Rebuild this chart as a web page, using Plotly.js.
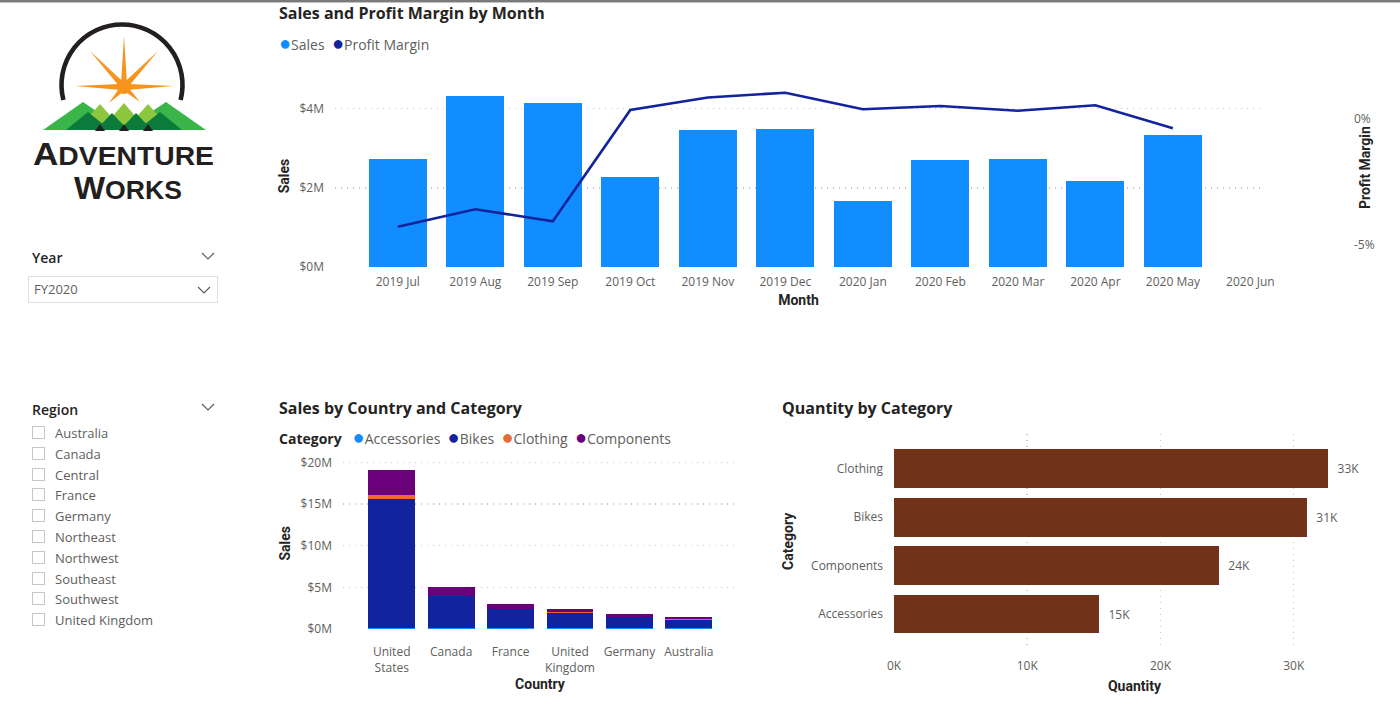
<!DOCTYPE html>
<html>
<head>
<meta charset="utf-8">
<script src="https://cdn.plot.ly/plotly-3.0.1.min.js"></script>
<style>
html,body{margin:0;padding:0;background:#fff;}
#wrap{position:relative;width:1400px;height:715px;overflow:hidden;font-family:'Open Sans',sans-serif;}
#chart{position:absolute;left:0;top:0;width:1400px;height:715px;}
#topline{position:absolute;left:0;top:0;width:1400px;height:2px;background:#7a7a7a;border-bottom:1px solid #c4c4c4;z-index:5;}
#logo{position:absolute;left:0;top:0;z-index:4;}
.stitle{position:absolute;font-family:'Open Sans',sans-serif;font-weight:600;font-size:14px;color:#252423;z-index:4;line-height:18px;}
.chev{position:absolute;z-index:4;}
.dropdown{position:absolute;border:1px solid #e1dfdd;box-sizing:border-box;z-index:4;font-size:13px;color:#605E5C;line-height:24px;padding-left:5px;}
.item{position:absolute;left:32px;z-index:4;height:20px;}
.item .box{position:absolute;left:0;top:3px;width:13px;height:13px;border:1px solid #c8c6c4;box-sizing:border-box;background:#fff;}
.item .lbl{position:absolute;left:23px;top:0;font-size:13px;color:#605E5C;line-height:20px;white-space:nowrap;}
</style>
</head>
<body>
<div id="wrap">
  <div id="chart"></div>
  <div id="topline"></div>
  <svg id="logo" width="240" height="210" viewBox="0 0 240 210"></svg>
  <div class="stitle" style="left:32px;top:249px;">Year</div>
  <svg class="chev" style="left:201px;top:252px;" width="14" height="8"><polyline points="1,1 7,7 13,1" fill="none" stroke="#605E5C" stroke-width="1.2"/></svg>
  <div class="dropdown" style="left:28px;top:276px;width:190px;height:27px;">FY2020</div>
  <svg class="chev" style="left:197px;top:286px;" width="14" height="8"><polyline points="1,1 7,7 13,1" fill="none" stroke="#605E5C" stroke-width="1.2"/></svg>
  <div class="stitle" style="left:32px;top:401px;">Region</div>
  <svg class="chev" style="left:201px;top:403px;" width="14" height="8"><polyline points="1,1 7,7 13,1" fill="none" stroke="#605E5C" stroke-width="1.2"/></svg>
  <div id="regions"></div>
</div>
<script>
// ---------------- Data ----------------
const months = ['2019 Jul','2019 Aug','2019 Sep','2019 Oct','2019 Nov','2019 Dec','2020 Jan','2020 Feb','2020 Mar','2020 Apr','2020 May','2020 Jun'];
const monthSales = [2730000, 4310000, 4140000, 2270000, 3460000, 3500000, 1670000, 2700000, 2740000, 2180000, 3330000, null];
const profitMargin = [-0.0430, -0.0360, -0.0408, 0.0036, 0.0086, 0.0105, 0.0039, 0.0052, 0.0033, 0.0055, -0.0037, null];

const countries = ['United<br>States','Canada','France','United<br>Kingdom','Germany','Australia'];
const salesCategories = ['Accessories','Bikes','Clothing','Components'];
const accessoriesSales = [80000, 120000, 100000, 100000, 100000, 80000];
const bikesSales = [15550000, 3840000, 2250000, 1780000, 1300000, 980000];
const clothingSales = [400000, 50000, 30000, 220000, 60000, 150000];
const componentsSales = [3000000, 1050000, 620000, 320000, 350000, 200000];

const qtyCategories = ['Accessories','Components','Bikes','Clothing'];
const quantity = [15400, 24400, 31000, 32600];

const regions = ['Australia','Canada','Central','France','Germany','Northeast','Northwest','Southeast','Southwest','United Kingdom'];

// ---------------- Slicer list ----------------
const regDiv = document.getElementById('regions');
regions.forEach((r,i)=>{
  const d = document.createElement('div');
  d.className='item';
  d.style.top = (423 + i*20.8) + 'px';
  d.innerHTML = '<div class="box"></div><div class="lbl">'+r+'</div>';
  regDiv.appendChild(d);
});

// ---------------- Logo ----------------
(function(){
  const NS='http://www.w3.org/2000/svg';
  const svg=document.getElementById('logo');
  function el(tag,attrs,parent){const e=document.createElementNS(NS,tag);for(const k in attrs)e.setAttribute(k,attrs[k]);(parent||svg).appendChild(e);return e;}
  el('path',{d:'M 63.4 100 A 60.5 60.5 0 1 1 180.6 100',fill:'none',stroke:'#231F20','stroke-width':4.6});
  const cx=124, cy=87;
  const tips=[[124,36],[75,86],[173,86],[90,51],[158,51],[109,103],[140,102]];
  tips.forEach(t=>{
    const dx=t[0]-cx, dy=t[1]-cy, L=Math.hypot(dx,dy), nx=-dy/L, ny=dx/L, w=3.2;
    el('polygon',{points:`${t[0]},${t[1]} ${cx+nx*w},${cy+ny*w} ${cx-dx*0.08},${cy-dy*0.08} ${cx-nx*w},${cy-ny*w}`,fill:'#F7941D'});
  });
  el('circle',{cx:cx,cy:cy,r:7,fill:'#F7941D'});
  el('polygon',{points:'43,130 83,102 124,130',fill:'#39B54A'});
  el('polygon',{points:'124,130 166,102 206,130',fill:'#39B54A'});
  el('polygon',{points:'77,130 100,104 123,130',fill:'#8DC63F'});
  el('polygon',{points:'101,130 124,103 147,130',fill:'#8DC63F'});
  el('polygon',{points:'125,130 148,104 171,130',fill:'#8DC63F'});
  el('polygon',{points:'66,130 88,112 110,130',fill:'#0B7A3B'});
  el('polygon',{points:'96,130 112,113 128,130',fill:'#0B7A3B'});
  el('polygon',{points:'120,130 136,113 152,130',fill:'#0B7A3B'});
  el('polygon',{points:'138,130 160,112 182,130',fill:'#0B7A3B'});
  el('polygon',{points:'95,131 100,124 105,131',fill:'#231F20'});
  el('polygon',{points:'119,131 124,124 129,131',fill:'#231F20'});
  el('polygon',{points:'143,131 148,124 153,131',fill:'#231F20'});
  const fam='Liberation Sans, Arial, sans-serif';
  const t1=el('text',{x:33,y:165,'font-family':fam,'font-weight':'bold',fill:'#231F20',textLength:181,lengthAdjust:'spacingAndGlyphs'});
  el('tspan',{'font-size':31},t1).textContent='A';
  el('tspan',{'font-size':25},t1).textContent='DVENTURE';
  const t2=el('text',{x:74,y:199,'font-family':fam,'font-weight':'bold',fill:'#231F20',textLength:108,lengthAdjust:'spacingAndGlyphs'});
  el('tspan',{'font-size':31},t2).textContent='W';
  el('tspan',{'font-size':25},t2).textContent='ORKS';
})();

// ---------------- Charts ----------------
const W=1400, H=715;
const px=v=>v/W, py=v=>(H-v)/H;
const tickGray='#605E5C', dark='#252423';
const gridDash='1px,5px', gridCol='#c8c6c4';
const axTitleFont={family:'Roboto, sans-serif', size:14, color:dark, weight:'bold'};
const chartTitleFont={family:'Open Sans, sans-serif', size:16, color:dark, weight:'bold'};
const sp='\u00a0';
const dot=c=>`<span style='color:${c};font-size:20px'>●</span>`;

const traces=[
  {type:'bar', x:months, y:monthSales, name:'Sales', marker:{color:'#118DFF'}, width:0.75, xaxis:'x', yaxis:'y'},
  {type:'scatter', mode:'lines', x:months, y:profitMargin, name:'Profit Margin', line:{color:'#12239E', width:2.6}, xaxis:'x', yaxis:'y2', connectgaps:false},
  {type:'bar', x:countries, y:accessoriesSales, name:'Accessories', marker:{color:'#118DFF'}, width:0.79, xaxis:'x2', yaxis:'y3'},
  {type:'bar', x:countries, y:bikesSales, name:'Bikes', marker:{color:'#12239E'}, width:0.79, xaxis:'x2', yaxis:'y3'},
  {type:'bar', x:countries, y:clothingSales, name:'Clothing', marker:{color:'#E66C37'}, width:0.79, xaxis:'x2', yaxis:'y3'},
  {type:'bar', x:countries, y:componentsSales, name:'Components', marker:{color:'#6B007B'}, width:0.79, xaxis:'x2', yaxis:'y3'},
  {type:'bar', orientation:'h', x:quantity, y:qtyCategories, name:'Quantity', marker:{color:'#72321A'}, width:0.8, xaxis:'x3', yaxis:'y4',
   text:quantity.map(v=>sp+sp+Math.round(v/1000)+'K'), textposition:'outside', textfont:{family:'Open Sans', size:12, color:tickGray}, cliponaxis:false}
];

const layout={
  width:W, height:H, margin:{l:0,r:0,t:0,b:0}, showlegend:false, barmode:'stack',
  paper_bgcolor:'#ffffff', plot_bgcolor:'rgba(0,0,0,0)',
  font:{family:'Open Sans, sans-serif', size:12, color:tickGray},
  xaxis:{domain:[px(335),px(1262)], anchor:'y', type:'category', range:[-0.81,11.15], showgrid:false, zeroline:false, showline:false, ticks:'',
         ticklabelstandoff:6, tickfont:{size:12,color:tickGray}, title:{text:'Month', font:axTitleFont, standoff:6}},
  yaxis:{domain:[py(267),py(85)], anchor:'x', range:[0,4600000], tickvals:[0,2000000,4000000], ticktext:['$0M','$2M','$4M'],
         showgrid:true, gridcolor:gridCol, griddash:gridDash, gridwidth:1.5, zeroline:false, showline:false, ticks:'', ticklabelstandoff:10,
         title:{text:'Sales', font:axTitleFont, standoff:6}},
  yaxis2:{overlaying:'y', side:'right', anchor:'free', position:px(1353), range:[-0.05906,0.01357], tickvals:[-0.05,0], ticktext:['-5%','0%'],
         showgrid:false, zeroline:false, showline:false, ticks:''},
  xaxis2:{domain:[px(343),px(737)], anchor:'y3', type:'category', range:[-0.82,5.81], showgrid:false, zeroline:false, showline:false, ticks:'',
         ticklabelstandoff:14, tickfont:{size:12,color:tickGray}, title:{text:'Country', font:axTitleFont, standoff:4}},
  yaxis3:{domain:[py(629),py(457.4)], anchor:'x2', range:[0,20600000], tickvals:[0,5000000,10000000,15000000,20000000],
         ticktext:['$0M','$5M','$10M','$15M','$20M'], showgrid:true, gridcolor:gridCol, griddash:gridDash, gridwidth:1.5, zeroline:false,
         showline:false, ticks:'', ticklabelstandoff:10, title:{text:'Sales', font:axTitleFont, standoff:6}},
  xaxis3:{domain:[px(894),px(1375)], anchor:'y4', range:[0,36100], tickvals:[0,10000,20000,30000], ticktext:['0K','10K','20K','30K'],
         showgrid:true, gridcolor:gridCol, griddash:gridDash, gridwidth:1.5, zeroline:false, showline:false, ticks:'',
         ticklabelstandoff:8, tickfont:{size:12,color:tickGray}, title:{text:'Quantity', font:axTitleFont, standoff:8}},
  yaxis4:{domain:[py(649),py(433.7)], anchor:'x3', type:'category', categoryorder:'array', categoryarray:qtyCategories, range:[-0.72,3.72],
         showgrid:false, zeroline:false, showline:false, ticks:'', ticklabelstandoff:10, tickfont:{size:12,color:tickGray},
         title:{text:'Category', font:axTitleFont, standoff:14}},
  annotations:[
    {xref:'paper', yref:'paper', x:px(277), y:py(13), xanchor:'left', yanchor:'middle', showarrow:false, text:'Sales and Profit Margin by Month', font:chartTitleFont},
    {xref:'paper', yref:'paper', x:px(277), y:py(42), xanchor:'left', yanchor:'middle', showarrow:false, font:{size:14,color:tickGray},
     text:dot('#118DFF')+'Sales'+sp+sp+dot('#12239E')+'Profit Margin'},
    {xref:'paper', yref:'paper', x:px(1365), y:py(168), xanchor:'center', yanchor:'middle', textangle:-90, showarrow:false, text:'Profit Margin', font:axTitleFont},
    {xref:'paper', yref:'paper', x:px(277), y:py(408), xanchor:'left', yanchor:'middle', showarrow:false, text:'Sales by Country and Category', font:chartTitleFont},
    {xref:'paper', yref:'paper', x:px(277), y:py(436), xanchor:'left', yanchor:'middle', showarrow:false, font:{size:14,color:tickGray},
     text:"<b style='color:#252423'>Category</b>"+sp+sp+sp+dot('#118DFF')+'Accessories'+sp+sp+dot('#12239E')+'Bikes'+sp+sp+dot('#E66C37')+'Clothing'+sp+sp+dot('#6B007B')+'Components'},
    {xref:'paper', yref:'paper', x:px(780), y:py(408), xanchor:'left', yanchor:'middle', showarrow:false, text:'Quantity by Category', font:chartTitleFont}
  ]
};

Plotly.newPlot('chart', traces, layout, {staticPlot:true, displayModeBar:false});
</script>
</body>
</html>
